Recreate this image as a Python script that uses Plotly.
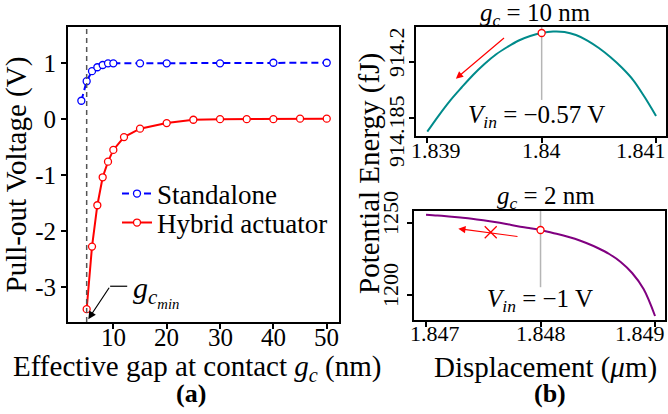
import plotly.graph_objects as go

W, H = 668, 414

# ---------------- data: panel (a) ----------------
gap_standalone = [4, 5, 6, 7, 8, 9, 10, 15, 20, 30, 40, 50]
v_standalone = [0.33, 0.68, 0.86, 0.93, 0.97, 1.0, 1.0, 1.0, 1.0, 1.0, 1.01, 1.01]
gap_hybrid = [5, 6, 7, 8, 9, 10, 12, 15, 20, 25, 30, 35, 40, 45, 50]
v_hybrid = [-3.40, -2.28, -1.54, -1.04, -0.76, -0.55, -0.32, -0.17, -0.07, -0.01,
            0.0, 0.0, 0.0, 0.01, 0.01]
gc_min = 5
a_xticks = [10, 20, 30, 40, 50]
a_xticktext = ["10", "20", "30", "40", "50"]
a_yticks = [-3, -2, -1, 0, 1]
a_yticktext = ["-3", "-2", "-1", "0", "1"]

# ---------------- data: panel (b) top, g_c = 10 nm ----------------
disp_10 = [1.8390, 1.8391, 1.8392, 1.8393, 1.8394, 1.8395, 1.8396, 1.8397, 1.8398, 1.8399,
           1.8400, 1.8401, 1.8402, 1.8403, 1.8404, 1.8405, 1.8406, 1.8407, 1.8408, 1.8409, 1.8410]
energy_10 = [914.18123, 914.18557, 914.18960, 914.19313, 914.19650, 914.19946, 914.20202,
             914.20404, 914.20579, 914.20700, 914.20781, 914.20821, 914.20808, 914.20727,
             914.20579, 914.20377, 914.20135, 914.19852, 914.19515, 914.19057, 914.18546]
op_10 = (1.8400, 914.20781)
top_xticks = [1.839, 1.840, 1.841]
top_xticktext = ["1.839", "1.84", "1.841"]
top_yticks = [914.185, 914.2]
top_yticktext = ["914.185", "914.2"]

# ---------------- data: panel (b) bottom, g_c = 2 nm ----------------
disp_2 = [1.8470, 1.8471, 1.8472, 1.8473, 1.8474, 1.8475, 1.8476, 1.8477, 1.8478, 1.8479,
          1.8480, 1.8481, 1.8482, 1.8483, 1.8484, 1.8485, 1.8486, 1.8487, 1.8488, 1.8489, 1.8490]
energy_2 = [1255.97, 1255.42, 1254.72, 1253.96, 1253.12, 1252.08, 1250.90, 1249.51, 1247.99,
            1246.74, 1245.35, 1243.40, 1241.53, 1239.24, 1236.32, 1232.85, 1228.68, 1223.13,
            1215.49, 1204.38, 1185.63]
op_2 = (1.8480, 1245.35)
cross_2 = (1.847565, 1243.75)
bot_xticks = [1.847, 1.848, 1.849]
bot_xticktext = ["1.847", "1.848", "1.849"]
bot_yticks = [1200, 1250]
bot_yticktext = ["1200", "1250"]

FONT = "Liberation Serif"


def px(x):
    return x / W


def py(y):
    return 1 - y / H


fig = go.Figure()

# panel (a)
fig.add_trace(go.Scatter(
    x=gap_standalone, y=v_standalone, mode="lines+markers", name="Standalone",
    line=dict(color="blue", width=2, dash="7px,4px"),
    marker=dict(symbol="circle", size=7, color="white", line=dict(color="blue", width=1.3)),
    xaxis="x", yaxis="y", legend="legend"))
fig.add_trace(go.Scatter(
    x=gap_hybrid, y=v_hybrid, mode="lines+markers", name="Hybrid actuator",
    line=dict(color="red", width=2),
    marker=dict(symbol="circle", size=7, color="white", line=dict(color="red", width=1.3)),
    xaxis="x", yaxis="y", legend="legend2"))

# panel (b) top
fig.add_trace(go.Scatter(
    x=disp_10, y=energy_10, mode="lines", line=dict(color="#008b8b", width=2, shape="spline"),
    showlegend=False, xaxis="x2", yaxis="y2"))
fig.add_trace(go.Scatter(
    x=[op_10[0]], y=[op_10[1]], mode="markers", showlegend=False,
    marker=dict(symbol="circle", size=7, color="white", line=dict(color="red", width=1.3)),
    xaxis="x2", yaxis="y2"))

# panel (b) bottom
fig.add_trace(go.Scatter(
    x=disp_2, y=energy_2, mode="lines", line=dict(color="purple", width=2, shape="spline"),
    showlegend=False, xaxis="x3", yaxis="y3"))
fig.add_trace(go.Scatter(
    x=[op_2[0]], y=[op_2[1]], mode="markers", showlegend=False,
    marker=dict(symbol="circle", size=7, color="white", line=dict(color="red", width=1.3)),
    xaxis="x3", yaxis="y3"))
fig.add_trace(go.Scatter(
    x=[cross_2[0]], y=[cross_2[1]], mode="markers", showlegend=False,
    marker=dict(symbol="x-thin", size=12, color="red", line=dict(color="red", width=1.3)),
    xaxis="x3", yaxis="y3"))

axis_common = dict(showline=True, linecolor="black", linewidth=2, mirror=True,
                   ticks="outside", ticklen=5, tickwidth=1.5, tickcolor="black",
                   showgrid=False, zeroline=False, automargin=False)

legend_common = dict(xanchor="left", yanchor="middle", bgcolor="rgba(0,0,0,0)",
                     font=dict(size=27), borderwidth=0)

fig.update_layout(
    template="none",
    width=W, height=H, margin=dict(l=0, r=0, t=0, b=0, pad=0),
    paper_bgcolor="white", plot_bgcolor="white",
    font=dict(family=FONT, color="black"),
    xaxis=dict(domain=[px(68), px(339)], range=[1.5, 52.3], anchor="y",
               tickvals=a_xticks, showticklabels=False, **axis_common),
    yaxis=dict(domain=[py(322), py(27)], range=[-3.63, 1.65], anchor="x",
               tickvals=a_yticks, ticktext=a_yticktext, tickfont=dict(size=25),
               title=dict(text="Pull-out Voltage (V)", font=dict(size=29), standoff=2),
               **axis_common),
    xaxis2=dict(domain=[px(416), px(666)], range=[1.8389015, 1.841087], anchor="y2",
                tickvals=top_xticks, showticklabels=False, **axis_common),
    yaxis2=dict(domain=[py(136), py(26.7)], range=[914.18007, 914.20951], anchor="x2",
                tickvals=top_yticks, showticklabels=False, **axis_common),
    xaxis3=dict(domain=[px(414), px(665)], range=[1.846895, 1.849087], anchor="y3",
                tickvals=bot_xticks, showticklabels=False, **axis_common),
    yaxis3=dict(domain=[py(320), py(210.7)], range=[1182.85, 1258.75], anchor="x3",
                tickvals=bot_yticks, ticktext=bot_yticktext, tickfont=dict(size=22),
                tickangle=-90, ticklabelshift=-7, **axis_common),
    legend=dict(x=px(117), y=py(194), **legend_common),
    legend2=dict(x=px(117), y=py(223), **legend_common),
    showlegend=True,
)

# shapes
fig.add_shape(type="line", xref="x", yref="y domain", x0=gc_min, x1=gc_min, y0=0, y1=1,
              line=dict(color="#555555", width=1.5, dash="5px,4px"))
fig.add_shape(type="line", xref="x2", yref="y2 domain", x0=op_10[0], x1=op_10[0], y0=0.33, y1=1,
              line=dict(color="#b5b5b5", width=1.5), layer="below")
fig.add_shape(type="line", xref="x3", yref="y3 domain", x0=op_2[0], x1=op_2[0], y0=0.3, y1=1,
              line=dict(color="#b5b5b5", width=1.5), layer="below")
# g_c_min leader (horizontal part)
fig.add_shape(type="line", xref="x", yref="y", x0=9.4, x1=12.6, y0=-2.99, y1=-2.99,
              line=dict(color="black", width=1.2))


def label(x, y, text, size, angle=0):
    return dict(xref="paper", yref="paper", x=px(x), y=py(y), xanchor="center",
                yanchor="middle", showarrow=False, text=text, textangle=angle,
                font=dict(size=size))


def xtick_labels(xref, vals, texts, y, size, shifts=None):
    shifts = shifts or [0] * len(vals)
    return [dict(xref=xref, yref="paper", x=v, y=py(y), xanchor="center", yanchor="middle",
                 xshift=s, showarrow=False, text=t, font=dict(size=size))
            for v, t, s in zip(vals, texts, shifts)]


ann = []
# x tick labels placed close to the axes (edge labels pulled inward as in the original)
ann += xtick_labels("x", a_xticks, a_xticktext, 337, 25)
ann += xtick_labels("x2", top_xticks, top_xticktext, 150, 22, [9, 0, -15])
ann += xtick_labels("x3", bot_xticks, bot_xticktext, 333, 22, [9, 0, -15])
# rotated y tick labels of the top-right panel
ann.append(label(396, 52, top_yticktext[1], 22, -90))
ann.append(label(396, 131, top_yticktext[0], 22, -90))
# g_c_min arrow and label
ann.append(dict(xref="x", yref="y", axref="x", ayref="y", x=5.3, y=-3.58, ax=9.4, ay=-2.99,
                text="", showarrow=True, arrowhead=2, arrowsize=1.3, arrowwidth=1.2,
                arrowcolor="black"))
ann.append(label(156, 291, "<i>g<sub>c<sub>min</sub></sub></i>", 30))
# axis titles drawn as text
ann.append(label(197, 368, "Effective gap at contact <i>g<sub>c</sub></i> (nm)", 29))
ann.append(label(545, 367, "Displacement (<i>\u03bc</i>m)", 29))
ann.append(label(369, 174, "Potential Energy (fJ)", 29, -90))
# top-right panel
ann.append(dict(xref="x2", yref="y2", axref="x2", ayref="y2", x=1.83925, y=914.1955,
                ax=1.839684, ay=914.20681, text="", showarrow=True, arrowhead=2,
                arrowsize=1.2, arrowwidth=1.2, arrowcolor="red"))
ann.append(label(536, 116, "<i>V<sub>in</sub></i> = \u22120.57 V", 25))
ann.append(label(535, 14, "<i>g<sub>c</sub></i> = 10 nm", 25))
# bottom-right panel
ann.append(dict(xref="x3", yref="y3", axref="x3", ayref="y3", x=1.847282, y=1246.25,
                ax=1.847812, ay=1240.7, text="", showarrow=True, arrowhead=2,
                arrowsize=1.2, arrowwidth=1.2, arrowcolor="red"))
ann.append(label(540, 300, "<i>V<sub>in</sub></i> = \u22121 V", 25))
ann.append(label(546, 197, "<i>g<sub>c</sub></i> = 2 nm", 25))
# panel labels
ann.append(label(191, 393, "<b>(a)</b>", 26))
ann.append(label(550, 393, "<b>(b)</b>", 26))
fig.update_layout(annotations=ann)

fig.write_html("out.html", config={"displayModeBar": False},
               post_script="document.body.style.margin='0';")
